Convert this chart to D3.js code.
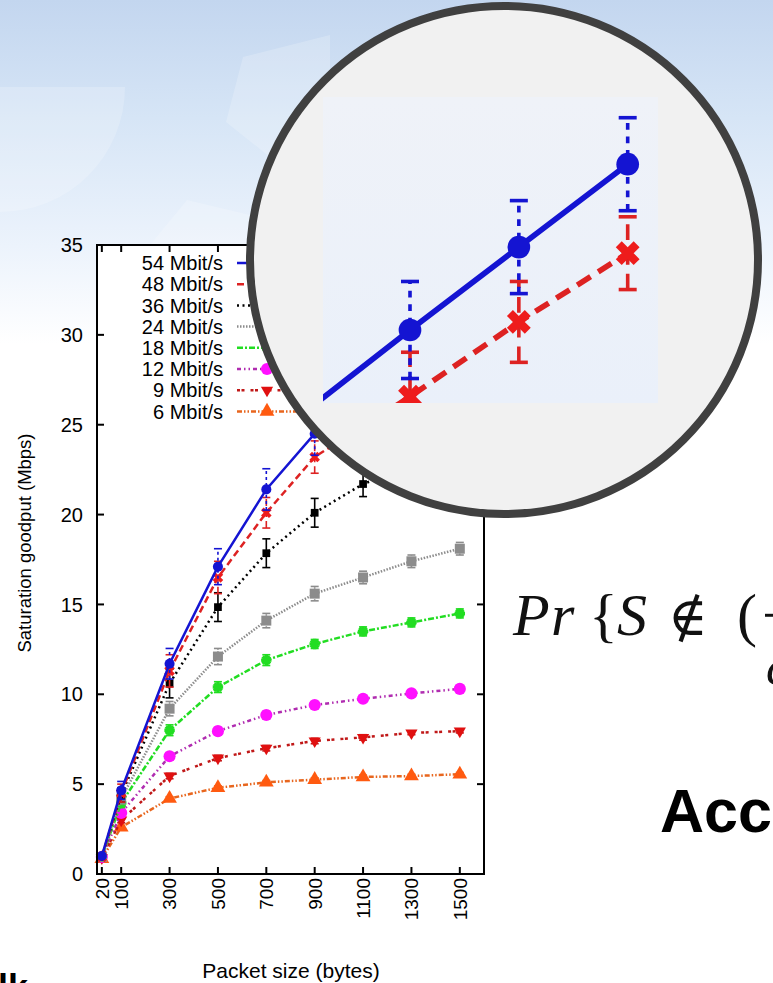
<!DOCTYPE html>
<meta charset="utf-8">
<style>
  body { margin: 0; background: #fff; }
  svg { display: block; font-family: "Liberation Sans", Arial, sans-serif; }
  .tick-label { font-size: 20px; fill: #000; }
  .legend text { font-size: 20px; fill: #000; }
  .axis-title { fill: #000; }
  .math { font-family: "Liberation Serif", "DejaVu Serif", serif; font-size: 60px; fill: #111; }
</style>
<body>
<script src="https://d3js.org/d3.v7.min.js"></script>
<script>
// packet sizes (bytes) on the x axis
var packetSizes = [20, 100, 300, 500, 700, 900, 1100, 1300, 1500];
var rateNames = ["54 Mbit/s", "48 Mbit/s", "36 Mbit/s", "24 Mbit/s", "18 Mbit/s", "12 Mbit/s", "9 Mbit/s", "6 Mbit/s"];

// saturation goodput (Mbps), one array per rate
var g54 = [1.0, 4.65, 11.7, 17.1, 21.4, 24.5, 26.6, 28.65, 30.7];
var g48 = [0.95, 4.5, 11.3, 16.5, 20.1, 23.2, 24.95, 26.8, 28.5];
var g36 = [0.95, 4.4, 10.6, 14.85, 17.85, 20.1, 21.7, 22.7, 23.4];
var g24 = [0.95, 4.2, 9.2, 12.1, 14.1, 15.6, 16.5, 17.4, 18.1];
var g18 = [0.95, 3.95, 8.0, 10.4, 11.9, 12.8, 13.5, 14.0, 14.5];
var g12 = [0.95, 3.4, 6.55, 7.95, 8.85, 9.4, 9.75, 10.05, 10.3];
var g9  = [0.9, 3.0, 5.45, 6.45, 7.0, 7.4, 7.6, 7.85, 7.95];
var g6  = [0.85, 2.6, 4.2, 4.8, 5.1, 5.25, 5.4, 5.45, 5.55];

// error bar half widths
var e54 = [0.1, 0.5, 0.85, 1.0, 1.15, 1.2, 1.2, 1.15, 1.15];
var e48 = [0.1, 0.5, 0.9, 0.9, 0.85, 0.9, 1.1, 1.0, 0.9];
var e36 = [0.1, 0.4, 0.8, 0.8, 0.8, 0.8, 0.7, 0.7, 0.7];
var e24 = [0.05, 0.3, 0.4, 0.45, 0.4, 0.4, 0.35, 0.35, 0.35];
var e18 = [0.05, 0.25, 0.3, 0.3, 0.3, 0.25, 0.25, 0.25, 0.25];
var e12 = [0.05, 0.2, 0.2, 0.2, 0.2, 0.15, 0.15, 0.15, 0.15];
var e9  = [0.05, 0.15, 0.15, 0.15, 0.15, 0.15, 0.15, 0.1, 0.1];
var e6  = [0.05, 0.1, 0.1, 0.1, 0.1, 0.1, 0.1, 0.1, 0.1];

var yTicks = [0, 5, 10, 15, 20, 25, 30, 35];

var values = [g54, g48, g36, g24, g18, g12, g9, g6];
var errors = [e54, e48, e36, e24, e18, e12, e9, e6];

// drawing styles for each rate
var styles = [
  { line: "#1414d2", mark: "#1414d2", dash: null,                 shape: "circle", size: 80 },
  { line: "#dd2222", mark: "#ee1c1c", dash: "7,4",                shape: "x",      size: 70 },
  { line: "#000000", mark: "#000000", dash: "2,3.5",              shape: "square", size: 60 },
  { line: "#8c8c8c", mark: "#8c8c8c", dash: "1.5,1.5",            shape: "square", size: 100 },
  { line: "#22dd22", mark: "#22dd22", dash: "6,2,2,2",            shape: "star",   size: 60 },
  { line: "#b02cb0", mark: "#ff10ff", dash: "4,3,1.5,3,1.5,3",    shape: "circle", size: 115 },
  { line: "#c01818", mark: "#e01010", dash: "3,1.5,3,6",          shape: "tridown",size: 65 },
  { line: "#e8661e", mark: "#ff5a10", dash: "5,2,1.5,2,1.5,2",    shape: "tri",    size: 95 }
];

var W = 773, H = 983;
var svg = d3.select("body").append("svg").attr("width", W).attr("height", H);
var defs = svg.append("defs");

// slide background
var bg = defs.append("linearGradient").attr("id", "bg").attr("x1", 0).attr("y1", 0).attr("x2", 0).attr("y2", 1);
bg.append("stop").attr("offset", 0).attr("stop-color", "#c3d6ef");
bg.append("stop").attr("offset", 0.12).attr("stop-color", "#d6e5f6");
bg.append("stop").attr("offset", 0.25).attr("stop-color", "#ecf3fc");
bg.append("stop").attr("offset", 0.35).attr("stop-color", "#ffffff");
bg.append("stop").attr("offset", 1).attr("stop-color", "#ffffff");
svg.append("rect").attr("width", W).attr("height", H).attr("fill", "url(#bg)");

// faint gear shapes
var gear = svg.append("g").attr("fill", "#fff").attr("opacity", 0.2);
gear.append("path").attr("d", "M0,87 L125,87 A125,125 0 0,1 0,212 Z");
gear.append("path").attr("d", "M243,57 L330,35 L330,205 L226,122 Z");
gear.append("path").attr("d", "M150,245 L187,200 L250,215 L250,245 Z");

var x = d3.scaleLinear().domain([0, 1600]).range([97, 484]);
var y = d3.scaleLinear().domain([0, 35]).range([874, 245]);

var plot = svg.append("g");
plot.append("rect")
  .attr("x", x(0)).attr("y", y(35))
  .attr("width", x(1600) - x(0)).attr("height", y(0) - y(35))
  .attr("fill", "#fff");

function symbolPath(shape, size) {
  if (shape === "circle") return d3.symbol(d3.symbolCircle, size)();
  if (shape === "square") return d3.symbol(d3.symbolSquare, size)();
  if (shape === "x" || shape === "star") return d3.symbol(d3.symbolCross, size)();
  if (shape === "tri" || shape === "tridown") return d3.symbol(d3.symbolTriangle, size)();
}

function drawMarker(sel, st, px, py, k) {
  var s = st.size * k * k;
  var at = "translate(" + px + "," + py + ")";
  if (st.shape === "x") {
    sel.append("path").attr("d", symbolPath("x", s)).attr("transform", at + " rotate(45)").attr("fill", st.mark);
  } else if (st.shape === "star") {
    sel.append("path").attr("d", symbolPath("star", s)).attr("transform", at).attr("fill", st.mark);
    sel.append("path").attr("d", symbolPath("star", s)).attr("transform", at + " rotate(45)").attr("fill", st.mark);
  } else if (st.shape === "tridown") {
    sel.append("path").attr("d", symbolPath("tri", s)).attr("transform", at + " rotate(180)").attr("fill", st.mark);
  } else {
    sel.append("path").attr("d", symbolPath(st.shape, s)).attr("transform", at).attr("fill", st.mark);
  }
}

function drawSeries(layer, i, xs, ys, k) {
  var st = styles[i];
  var g = layer.append("g");
  var data = packetSizes.map(function(p, j) { return { p: p, v: values[i][j], e: errors[i][j] }; });
  var dash = st.dash ? st.dash.split(",").map(function(d) { return +d * k; }).join(",") : null;
  // error bars
  data.forEach(function(d) {
    var px = xs(d.p), cap = 4 * k;
    var eb = g.append("g").attr("stroke", st.line).attr("stroke-width", 1.6 * k);
    eb.append("line").attr("x1", px).attr("x2", px).attr("y1", ys(d.v - d.e)).attr("y2", ys(d.v + d.e))
      .attr("stroke-dasharray", i === 2 ? null : (st.dash ? dash : 3 * k + "," + 3 * k));
    eb.append("line").attr("x1", px - cap).attr("x2", px + cap).attr("y1", ys(d.v + d.e)).attr("y2", ys(d.v + d.e));
    eb.append("line").attr("x1", px - cap).attr("x2", px + cap).attr("y1", ys(d.v - d.e)).attr("y2", ys(d.v - d.e));
  });
  g.append("path")
    .attr("d", d3.line().x(function(d) { return xs(d.p); }).y(function(d) { return ys(d.v); })(data))
    .attr("fill", "none").attr("stroke", st.line).attr("stroke-width", 2.5 * k)
    .attr("stroke-dasharray", dash);
  data.forEach(function(d) { drawMarker(g, st, xs(d.p), ys(d.v), k); });
}

var seriesLayer = plot.append("g");
for (var i = values.length - 1; i >= 0; i--) drawSeries(seriesLayer, i, x, y, 1);

// frame and inward ticks
var frame = plot.append("g").attr("stroke", "#000").attr("stroke-width", 2).attr("fill", "none");
frame.append("rect").attr("x", x(0)).attr("y", y(35)).attr("width", x(1600) - x(0)).attr("height", y(0) - y(35));
yTicks.forEach(function(t) {
  frame.append("line").attr("x1", x(0)).attr("x2", x(0) + 7).attr("y1", y(t)).attr("y2", y(t));
  frame.append("line").attr("x1", x(1600)).attr("x2", x(1600) - 7).attr("y1", y(t)).attr("y2", y(t));
});
packetSizes.forEach(function(t) {
  frame.append("line").attr("x1", x(t)).attr("x2", x(t)).attr("y1", y(0)).attr("y2", y(0) - 7);
  frame.append("line").attr("x1", x(t)).attr("x2", x(t)).attr("y1", y(35)).attr("y2", y(35) + 7);
});

plot.append("g").selectAll("text").data(yTicks).enter().append("text")
  .attr("class", "tick-label")
  .attr("x", x(0) - 14).attr("y", function(d) { return y(d); }).attr("dy", "0.36em")
  .attr("text-anchor", "end").text(function(d) { return d; });

plot.append("g").selectAll("text").data(packetSizes).enter().append("text")
  .attr("class", "tick-label")
  .style("font-size", "19px")
  .attr("transform", function(d) { return "translate(" + x(d) + "," + (y(0) + 4) + ") rotate(-90)"; })
  .attr("dy", "0.36em")
  .attr("text-anchor", "end").text(function(d) { return d; });

plot.append("text").attr("class", "axis-title")
  .attr("transform", "translate(31,543) rotate(-90)")
  .attr("text-anchor", "middle").style("font-size", "18.5px")
  .text("Saturation goodput (Mbps)");

plot.append("text").attr("class", "axis-title")
  .attr("x", 291).attr("y", 978)
  .attr("text-anchor", "middle").style("font-size", "21px")
  .text("Packet size (bytes)");

// legend
var legend = plot.append("g").attr("class", "legend");
rateNames.forEach(function(name, i) {
  var ly = 263 + i * 21.2;
  var st = styles[i];
  legend.append("text").attr("x", 223).attr("y", ly).attr("dy", "0.36em")
    .attr("text-anchor", "end").text(name);
  legend.append("line").attr("x1", 237).attr("x2", 297).attr("y1", ly).attr("y2", ly)
    .attr("stroke", st.line).attr("stroke-width", 2.5).attr("stroke-dasharray", st.dash);
  drawMarker(legend, st, 267, ly, 1);
});

// magnifier
var cx = 504, cy = 260, R = 254;
svg.append("circle").attr("cx", cx).attr("cy", cy).attr("r", R)
  .attr("fill", "#f1f1f1").attr("stroke", "#404040").attr("stroke-width", 8);

var ins = { x0: 323, y0: 97, x1: 658, y1: 403 };
defs.append("clipPath").attr("id", "insclip").append("rect")
  .attr("x", ins.x0).attr("y", ins.y0).attr("width", ins.x1 - ins.x0).attr("height", ins.y1 - ins.y0);
var insGrad = defs.append("linearGradient").attr("id", "insbg").attr("x1", 0).attr("y1", 0).attr("x2", 0).attr("y2", 1);
insGrad.append("stop").attr("offset", 0).attr("stop-color", "#eff2f8");
insGrad.append("stop").attr("offset", 1).attr("stop-color", "#eaf0fa");
svg.append("rect").attr("x", ins.x0).attr("y", ins.y0).attr("width", ins.x1 - ins.x0).attr("height", ins.y1 - ins.y0)
  .attr("fill", "url(#insbg)");

var zoomK = 2.25;
var xi = d3.scaleLinear().domain([1100, 1500]).range([410, 410 + zoomK * (x(1500) - x(1100))]);
var yi = d3.scaleLinear().domain([26.6, 30.6]).range([330, 330 - zoomK * (y(26.6) - y(30.6))]);
var insLayer = svg.append("g").attr("clip-path", "url(#insclip)");
drawSeries(insLayer, 1, xi, yi, zoomK);
drawSeries(insLayer, 0, xi, yi, zoomK);

// slide text: formula pieces placed one by one
var mathBits = [
  { t: "P", x: 513, it: true },
  { t: "r", x: 551, it: true },
  { t: "{", x: 589, it: false },
  { t: "S", x: 617, it: true },
  { t: "\u2209", x: 668, it: false, dv: true },
  { t: "(", x: 737, it: false },
  { t: "\u2212", x: 762, it: false }
];
mathBits.forEach(function(b) {
  svg.append("text").attr("class", "math")
    .attr("x", b.x).attr("y", 635)
    .style("font-style", b.it ? "italic" : "normal")
    .style("font-family", b.dv ? "'DejaVu Serif', serif" : null)
    .style("font-size", b.dv ? "54px" : null)
    .text(b.t);
});
svg.append("text").attr("class", "math").attr("x", 766).attr("y", 684)
  .style("font-style", "italic").style("font-size", "50px").text("c");

svg.append("text").attr("x", 660).attr("y", 832)
  .style("font-weight", "bold").style("font-size", "61px")
  .attr("fill", "#000").text("Acc");

svg.append("text").attr("x", -2).attr("y", 1000)
  .style("font-weight", "bold").style("font-size", "36px").attr("fill", "#000").text("lk");
</script>
